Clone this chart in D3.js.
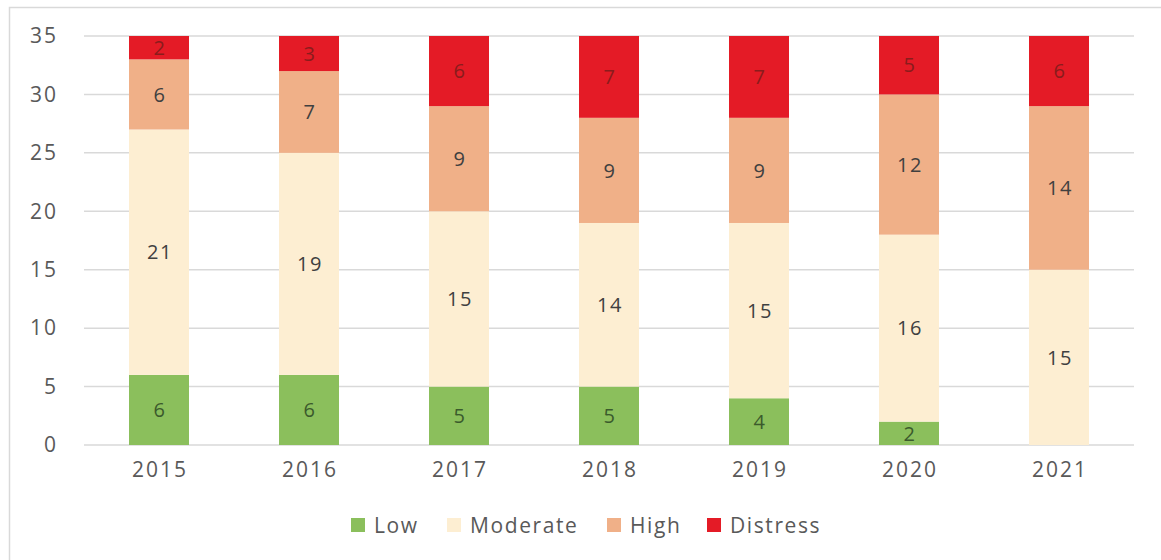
<!DOCTYPE html>
<html><head><meta charset="utf-8">
<script src="https://cdn.jsdelivr.net/npm/d3@7"></script>
<style>body{margin:0;background:#fff}svg{display:block}text{font-family:"Open Sans",sans-serif}</style>
</head><body><svg id="c" width="1161" height="560"></svg>
<script>
const years = ["2015","2016","2017","2018","2019","2020","2021"];
const seriesNames = ["Low","Moderate","High","Distress"];
const low = [6,6,5,5,4,2,0];
const moderate = [21,19,15,14,15,16,15];
const high = [6,7,9,9,9,12,14];
const distress = [2,3,6,7,7,5,6];
const yTicks = [0,5,10,15,20,25,30,35];

const colors = {Low:"#8bbf5c",Moderate:"#fdeed2",High:"#f0b088",Distress:"#e41b26"};
const labelColors = {Low:"#3b5a2c",Moderate:"#404040",High:"#404040",Distress:"#8a1c1c"};

const rows = years.map((y,i)=>({year:y,Low:low[i],Moderate:moderate[i],High:high[i],Distress:distress[i]}));
const stack = d3.stack().keys(seriesNames)(rows);

const svg = d3.select("#c");
svg.append("rect").attr("x",9.5).attr("y",7.5).attr("width",1170).attr("height",600)
  .attr("fill","none").attr("stroke","#d9d9d9").attr("stroke-width",1.5);

const x = d3.scaleBand().domain(years).range([84,1134]).paddingInner(0.6).paddingOuter(0.3);
const y = d3.scaleLinear().domain([0,35]).range([445,36]);

svg.append("g").selectAll("line").data(yTicks).join("line")
  .attr("x1",84).attr("x2",1134).attr("y1",d=>y(d)).attr("y2",d=>y(d))
  .attr("stroke","#d9d9d9").attr("stroke-width",1.5);

const yAxis = d3.axisLeft(y).tickValues(yTicks).tickSize(0).tickPadding(0);
const gy = svg.append("g").attr("transform","translate(58,0)").call(yAxis);
gy.select(".domain").remove();
gy.selectAll("text").attr("font-size",21).attr("fill","#595959").attr("letter-spacing",2)
  .attr("font-family","'Open Sans',sans-serif");

const xAxis = d3.axisBottom(x).tickSize(0).tickPadding(0);
const gx = svg.append("g").attr("transform","translate(1,462)").call(xAxis);
gx.select(".domain").remove();
gx.selectAll("text").attr("font-size",21).attr("fill","#595959").attr("letter-spacing",2)
  .attr("font-family","'Open Sans',sans-serif");

const layers = svg.append("g").selectAll("g").data(stack).join("g").attr("fill",d=>colors[d.key]);
layers.selectAll("rect").data(d=>d).join("rect")
  .attr("x",d=>x(d.data.year)).attr("width",x.bandwidth())
  .attr("y",d=>y(d[1])).attr("height",d=>y(d[0])-y(d[1]));

const lab = svg.append("g");
stack.forEach(s=>{
  lab.selectAll(null).data(s.filter(d=>d[1]-d[0]>0)).join("text")
    .attr("x",d=>x(d.data.year)+x.bandwidth()/2+1)
    .attr("y",d=>(y(d[0])+y(d[1]))/2)
    .attr("dy","0.36em").attr("text-anchor","middle")
    .attr("font-size",20).attr("letter-spacing",1.5).attr("fill",labelColors[s.key])
    .text(d=>d[1]-d[0]);
});

const legX = [351,447,607,707];
const leg = svg.append("g");
seriesNames.forEach((n,i)=>{
  leg.append("rect").attr("x",legX[i]).attr("y",518).attr("width",14).attr("height",14).attr("fill",colors[n]);
  leg.append("text").attr("x",legX[i]+23).attr("y",525).attr("dy","0.36em")
    .attr("font-size",21).attr("fill","#595959").attr("letter-spacing",1.6).text(n);
});
</script></body></html>
